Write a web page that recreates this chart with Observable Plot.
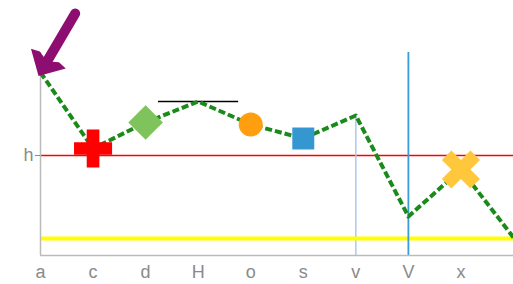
<!DOCTYPE html>
<html>
<head>
<meta charset="utf-8">
<script src="https://cdn.jsdelivr.net/npm/d3@7"></script>
<script src="https://cdn.jsdelivr.net/npm/@observablehq/plot@0.6"></script>
<style>
  html, body { margin: 0; padding: 0; background: #fff; }
</style>
</head>
<body>
<div id="chart"></div>
<script>
// Categories along x (10th point has no visible label)
const categories = ["a", "c", "d", "H", "o", "s", "v", "V", "x", ""];
// Dashed line values
const values = [91.5, 53.5, 66.5, 77, 65.5, 58.5, 70, 19.5, 43, 9];
// Y tick
const yTickValues = [50];
const yTickLabels = ["h"];
// Markers
const markerCats = ["c", "d", "o", "s", "x"];
const markerSymbols = ["cross", "diamond2", "circle", "square", "cross"];
const markerColors = ["#ff0000", "#7fc35c", "#ff9f0f", "#3597cf", "#ffc83c"];
const markerSizes = [16, 15.6, 12, 12.4, 17];
const markerRotate = [0, 0, 0, 0, 45];
// Reference lines
const redRuleY = [50];
const yellowRuleY = [8.5];
const blueRuleX = ["V"];
const lightRule = {x: "v", from: 0, to: 70};
const blackSeg = {y: 77, from: 2.245, to: 3.77};
const arrowData = [{x1: 0.66, y1: 121, x2: 0, y2: 91.5}];

// filled arrowhead symbol, tip at origin pointing up
const arrowHead = {
  draw(ctx) {
    ctx.moveTo(0, -4);
    ctx.lineTo(20, 16);
    ctx.lineTo(11, 18);
    ctx.lineTo(0, 13);
    ctx.lineTo(-11, 18);
    ctx.lineTo(-20, 16);
    ctx.closePath();
  }
};

const idx = c => categories.indexOf(c);
const lineData = values.map((v, i) => ({i, v}));
const markers = markerCats.map((c, k) => ({
  i: idx(c), v: values[idx(c)], symbol: markerSymbols[k], color: markerColors[k],
  r: markerSizes[k], rot: markerRotate[k]
}));

const chart = Plot.plot({
  width: 513,
  height: 284,
  marginLeft: 40,
  marginRight: 0,
  marginTop: 52,
  marginBottom: 29,
  style: {fontFamily: "'Liberation Sans', Arial, sans-serif", fontSize: "18px", background: "#fff", overflow: "visible"},
  x: {domain: [0, categories.length - 1]},
  y: {domain: [0, 101.5]},
  r: {type: "identity"},
  symbol: {type: "identity"},
  marks: [
    Plot.ruleY(redRuleY, {stroke: "#ff0000", strokeWidth: 1.5}),
    Plot.ruleX([lightRule], {x: d => idx(d.x), y1: "from", y2: "to", stroke: "#aec6ef", strokeWidth: 1.5}),
    Plot.ruleY(yellowRuleY, {stroke: "#ffff00", strokeWidth: 4}),
    Plot.ruleX(blueRuleX, {x: d => idx(d), stroke: "#3b9ad8", strokeWidth: 1.8}),
    Plot.ruleY([blackSeg], {y: "y", x1: "from", x2: "to", stroke: "#000", strokeWidth: 1.5}),
    Plot.ruleX([0], {stroke: "#bbbbbb", strokeWidth: 1.5}),
    Plot.ruleY([0], {stroke: "#bbbbbb", strokeWidth: 1.5}),
    Plot.line(lineData, {x: "i", y: "v", stroke: "#1a8a1a", strokeWidth: 4, strokeDasharray: "7 3", strokeLinecap: "butt"}),
    Plot.dot(markers, {x: "i", y: "v", symbol: "symbol", fill: "color", r: "r", rotate: "rot", stroke: null}),
    Plot.arrow(arrowData, {x1: "x1", y1: "y1", x2: "x2", y2: "y2", stroke: "#8e0d70", strokeWidth: 10, headLength: 0, insetEnd: 12}),
    Plot.dot(arrowData, {x: "x2", y: "y2", symbol: arrowHead, fill: "#8e0d70", stroke: null, rotate: 209.5}),
    Plot.axisX({ticks: d3.range(9), tickFormat: i => categories[i], tickSize: 0, tickPadding: 10, color: "#8a8a8a", fontSize: 18, label: null}),
    Plot.axisY({ticks: yTickValues, tickFormat: (d, k) => yTickLabels[k], tickSize: 5, tickPadding: 2, color: "#8a8a8a", fontSize: 18, label: null})
  ]
});
document.getElementById("chart").appendChild(chart);
</script>
</body>
</html>
